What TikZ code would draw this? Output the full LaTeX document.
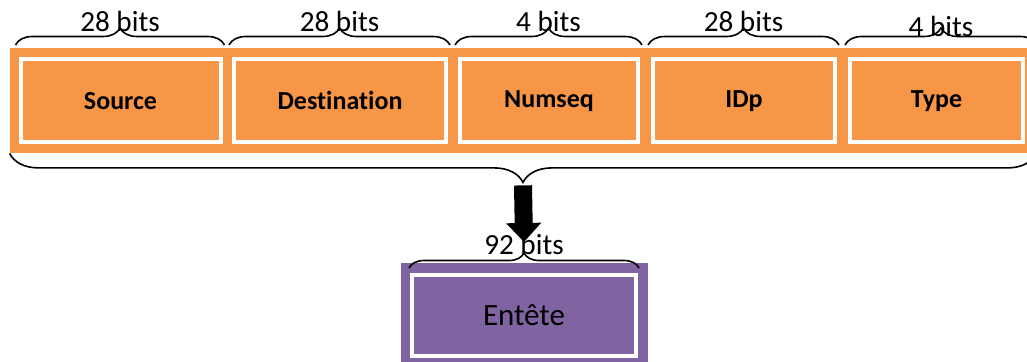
\documentclass[tikz,border=0pt]{standalone}
\usepackage{fontspec}
\setmainfont{Carlito}[Ligatures=NoCommon]
\usetikzlibrary{arrows.meta,decorations.pathreplacing}
\definecolor{fieldorange}{RGB}{247,150,70}
\definecolor{headpurple}{RGB}{128,100,162}
\tikzset{
  field/.style={draw=white,line width=2pt,fill=fieldorange,minimum height=41.25pt,
    inner sep=0pt,font=\fontsize{13pt}{15pt}\selectfont\bfseries},
  bitbrace/.style={decorate,decoration={brace,amplitude=8.5pt},line width=0.8pt},
  bitlabel/.style={font=\fontsize{14.6pt}{17pt}\selectfont,anchor=base,inner sep=0pt,yshift=6.5pt}
}
\begin{document}
\begin{tikzpicture}[x=0.5pt,y=-0.5pt]
    \useasboundingbox (0,0) rectangle (1027,362);
    % header fields
    \node[fill=fieldorange,minimum width=513pt,minimum height=52.5pt,inner sep=0pt] (hdr) at (523,100.5) {};
    \node[field,minimum width=100pt] (src) at (120.5,100.75) {Source};
    \node[field,minimum width=106pt] (dst) at (340,100.75) {Destination};
    \node[field,minimum width=89pt] (num) at (549,100.75) {Numseq};
    \node[field,minimum width=91pt] (idp) at (744,100.75) {IDp};
    \node[field,minimum width=86.5pt] (typ) at (936.5,100.75) {Type};
    \foreach \f/\b in {src/28,dst/28,num/4,idp/28}
      \draw[bitbrace] ([xshift=-1.5pt,yshift=6.25pt]\f.north west) -- ([xshift=1pt,yshift=6.25pt]\f.north east)
        node[midway,bitlabel] {\b\ bits};
    \draw[bitbrace] ([xshift=-1.5pt,yshift=6.25pt]typ.north west) -- ([xshift=6pt,yshift=6.25pt]typ.north east)
      node[midway,bitlabel,yshift=-2.5pt] {4 bits};
    \draw[bitbrace,decoration={brace,amplitude=14.5pt}] (hdr.south east) -- (hdr.south west)
      coordinate[midway,yshift=-14.5pt] (hdrtip);
    % resulting header
    \node[fill=headpurple,minimum width=123.5pt,minimum height=51.5pt,inner sep=0pt] (hdrbox) at (524.5,314.5) {};
    \node[draw=white,line width=2pt,fill=headpurple,minimum width=112pt,minimum height=40.5pt,inner sep=0pt,
      font=\fontsize{15.5pt}{18pt}\selectfont] (ent) at (524,315.5) {Entête};
    \draw[bitbrace,decoration={brace,amplitude=7.5pt}] ([xshift=-0.5pt,yshift=2.5pt]ent.north west) -- ([xshift=0.5pt,yshift=2.5pt]ent.north east)
      node[midway,bitlabel] {92 bits} coordinate[midway,yshift=7.5pt] (enttip);
    \draw[line width=9pt,-{Triangle[width=17pt,length=9.5pt]}] ([yshift=-1.5pt]hdrtip) -- ([yshift=5.5pt]enttip);
\end{tikzpicture}
\end{document}
